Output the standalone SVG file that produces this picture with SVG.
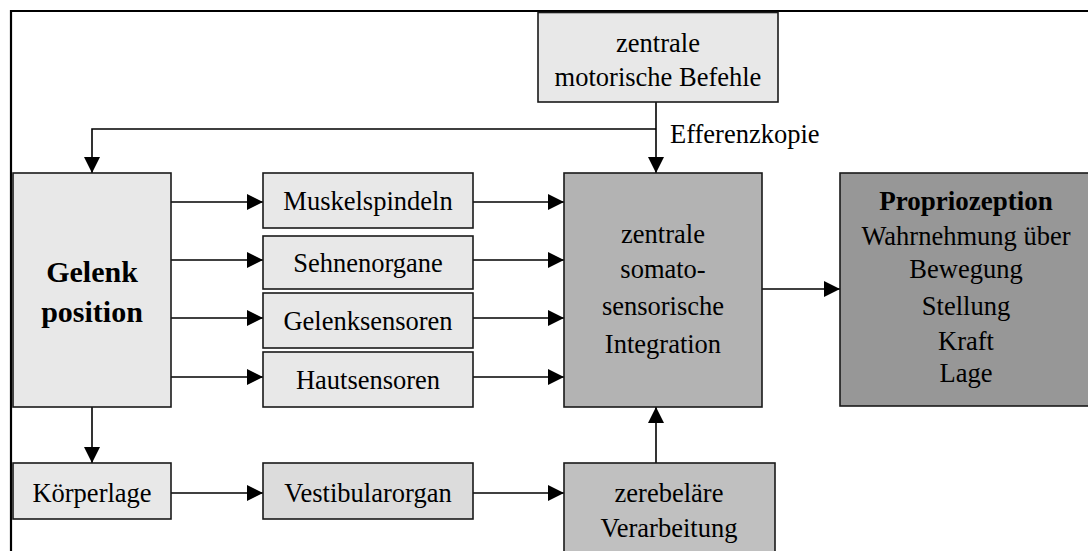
<svg xmlns="http://www.w3.org/2000/svg" width="1088" height="551" viewBox="0 0 1088 551">
  <defs>
    <marker id="arrow" viewBox="0 0 16 16" refX="16" refY="8" markerWidth="16" markerHeight="16" markerUnits="userSpaceOnUse" orient="auto">
      <path d="M0,0 L16,8 L0,16 Z" fill="#000"/>
    </marker>
    <style>
      .box { stroke: #1a1a1a; stroke-width: 1.6; }
      .light { fill: #e8e8e8; }
      .vest { fill: #dcdcdc; }
      .mid { fill: #b3b3b3; }
      .cereb { fill: #c0c0c0; }
      .dark { fill: #979797; }
      .t { font-family: "Liberation Serif", "Times New Roman", serif; font-size: 26.5px; fill: #000; text-anchor: middle; }
      .b { font-weight: bold; }
      .conn { fill: none; stroke: #000; stroke-width: 1.6; }
    </style>
  </defs>

  <rect width="1088" height="551" fill="#fff"/>
  <!-- outer frame (continues past the right and bottom edges) -->
  <path d="M11,560 L11,11 L1100,11" fill="none" stroke="#000" stroke-width="2.2"/>

  <!-- connectors -->
  <g id="connectors">
    <path class="conn" d="M656,102 L656,173" marker-end="url(#arrow)"/>
    <path class="conn" d="M656,129 L92,129 L92,173" marker-end="url(#arrow)"/>
    <path class="conn" d="M171,202 L263,202" marker-end="url(#arrow)"/>
    <path class="conn" d="M171,260 L263,260" marker-end="url(#arrow)"/>
    <path class="conn" d="M171,318 L263,318" marker-end="url(#arrow)"/>
    <path class="conn" d="M171,377 L263,377" marker-end="url(#arrow)"/>
    <path class="conn" d="M473,202 L564,202" marker-end="url(#arrow)"/>
    <path class="conn" d="M473,260 L564,260" marker-end="url(#arrow)"/>
    <path class="conn" d="M473,318 L564,318" marker-end="url(#arrow)"/>
    <path class="conn" d="M473,377 L564,377" marker-end="url(#arrow)"/>
    <path class="conn" d="M762,289 L840,289" marker-end="url(#arrow)"/>
    <path class="conn" d="M92,407 L92,463" marker-end="url(#arrow)"/>
    <path class="conn" d="M171,493 L263,493" marker-end="url(#arrow)"/>
    <path class="conn" d="M473,493 L564,493" marker-end="url(#arrow)"/>
    <path class="conn" d="M656,463 L656,407" marker-end="url(#arrow)"/>
    <text class="t" x="670" y="143" style="text-anchor:start">Efferenzkopie</text>
  </g>

  <g id="motor">
    <rect class="box light" x="538" y="12.5" width="240" height="89.5"/>
    <text class="t" x="658" y="52">zentrale</text>
    <text class="t" x="658" y="86">motorische Befehle</text>
  </g>

  <g id="gelenk">
    <rect class="box light" x="13" y="173" width="158" height="234"/>
    <text class="t b" x="92" y="282" style="font-size:30px">Gelenk</text>
    <text class="t b" x="92" y="322" style="font-size:30px">position</text>
  </g>

  <g id="muskelspindeln">
    <rect class="box light" x="263" y="173" width="210" height="55"/>
    <text class="t" x="368" y="210">Muskelspindeln</text>
  </g>
  <g id="sehnenorgane">
    <rect class="box light" x="263" y="236" width="210" height="53"/>
    <text class="t" x="368" y="272">Sehnenorgane</text>
  </g>
  <g id="gelenksensoren">
    <rect class="box light" x="263" y="293" width="210" height="55"/>
    <text class="t" x="368" y="330">Gelenksensoren</text>
  </g>
  <g id="hautsensoren">
    <rect class="box light" x="263" y="352" width="210" height="55"/>
    <text class="t" x="368" y="389">Hautsensoren</text>
  </g>

  <g id="integration">
    <rect class="box mid" x="564" y="173" width="198" height="234"/>
    <text class="t" x="663" y="243">zentrale</text>
    <text class="t" x="663" y="278">somato-</text>
    <text class="t" x="663" y="315">sensorische</text>
    <text class="t" x="663" y="353">Integration</text>
  </g>

  <g id="propriozeption">
    <rect class="box dark" x="840" y="173" width="252" height="233"/>
    <text class="t b" x="966" y="210" style="font-size:27px">Propriozeption</text>
    <text class="t" x="966" y="245">Wahrnehmung über</text>
    <text class="t" x="966" y="278">Bewegung</text>
    <text class="t" x="966" y="315">Stellung</text>
    <text class="t" x="966" y="350">Kraft</text>
    <text class="t" x="966" y="382">Lage</text>
  </g>

  <g id="koerperlage">
    <rect class="box light" x="13" y="463" width="158" height="56"/>
    <text class="t" x="92" y="502">Körperlage</text>
  </g>

  <g id="vestibularorgan">
    <rect class="box vest" x="263" y="463" width="210" height="56"/>
    <text class="t" x="368" y="502">Vestibularorgan</text>
  </g>

  <g id="zerebellum">
    <rect class="box cereb" x="564" y="463" width="211" height="100"/>
    <text class="t" x="669" y="502">zerebeläre</text>
    <text class="t" x="669" y="537">Verarbeitung</text>
  </g>
</svg>
